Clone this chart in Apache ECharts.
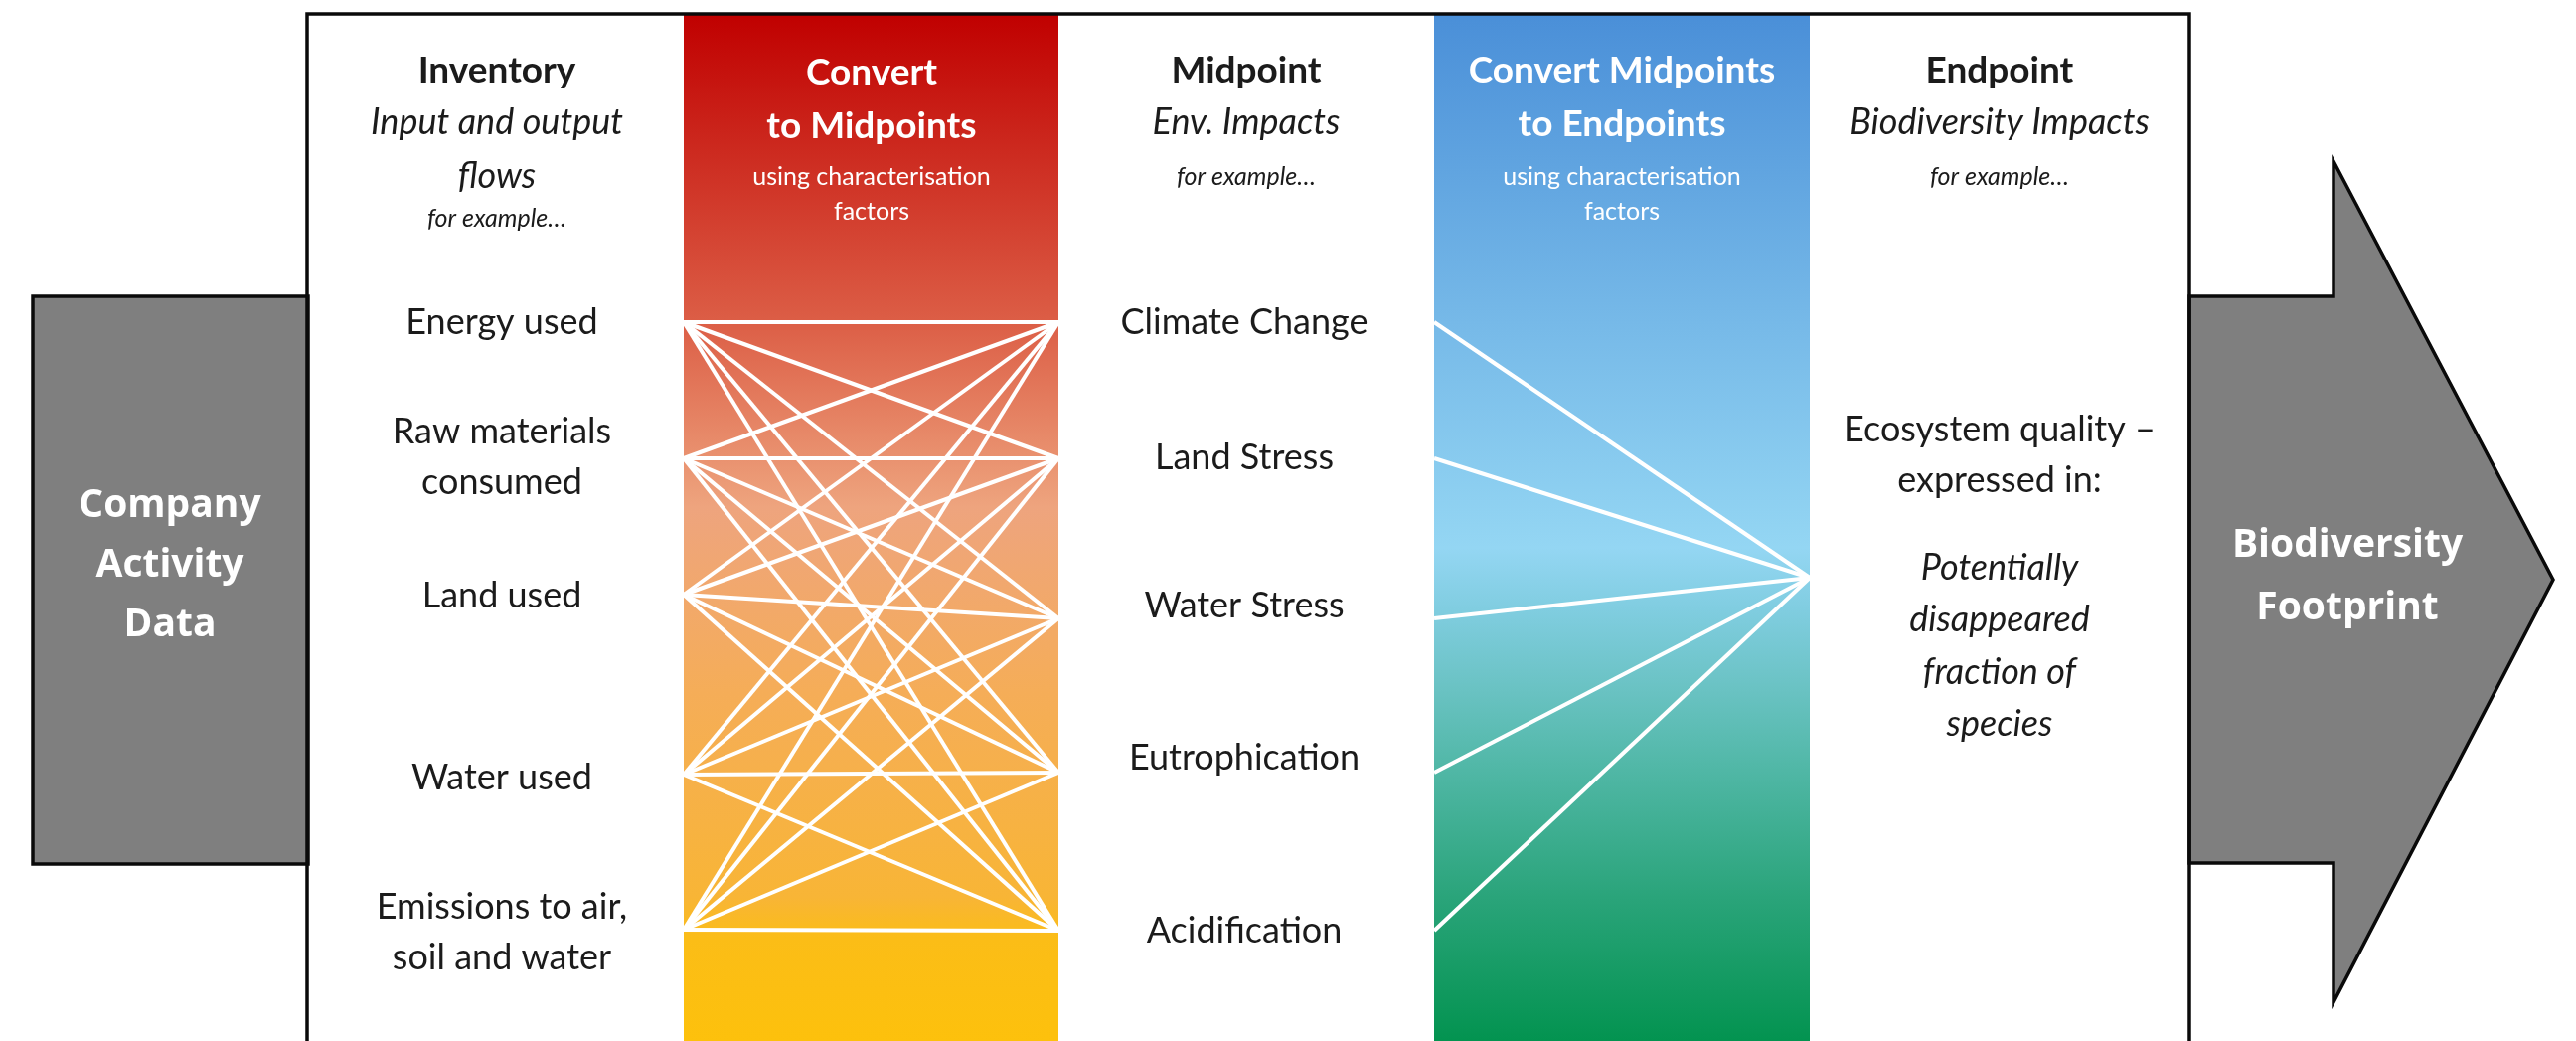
<!DOCTYPE html>
<html>
<head>
<meta charset="utf-8">
<script src="https://cdn.jsdelivr.net/npm/echarts@6/dist/echarts.min.js"></script>
<style>
html,body{margin:0;padding:0;background:#fff;}
#chart{width:2592px;height:1047px;}
</style>
</head>
<body>
<div id="chart"></div>
<script>
// ---------------- data ----------------
const inventoryFlows = ['Energy used', 'Raw materials\nconsumed', 'Land used', 'Water used', 'Emissions to air,\nsoil and water'];
const midpointImpacts = ['Climate Change', 'Land Stress', 'Water Stress', 'Eutrophication', 'Acidification'];
const endpointImpact = 'Ecosystem quality –\nexpressed in:';
const endpointMeasure = 'Potentially\ndisappeared\nfraction of\nspecies';
const columnTitles = ['Inventory', 'Convert\nto Midpoints', 'Midpoint', 'Convert Midpoints\nto Endpoints', 'Endpoint'];
const columnSubtitles = ['Input and output\nflows', '', 'Env. Impacts', '', 'Biodiversity Impacts'];
const columnNotes = ['for example…', 'using characterisation\nfactors', 'for example…', 'using characterisation\nfactors', 'for example…'];
const sourceLabel = 'Company\nActivity\nData';
const resultLabel = 'Biodiversity\nFootprint';

// ---------------- layout (diagram units = reference pixels) ----------------
const W = 2592, H = 1047;
const LAYOUT = {
  colCenterX: [500, 877, 1254, 1632, 2012],
  itemCenterX: [505, 877, 1252, 1632, 2012],
  titleY: [71, 73, 71, 71, 71],
  titleLH: 54,
  subtitleY: 123,
  subtitleLH: 54,
  noteY: [220, 178, 178, 178, 178],
  noteLH: 35,
  inventoryLabelY: [324, 434, 599, 782, 912],
  inventoryNodeY: [324, 461, 598, 779, 935],
  midpointLabelY: [324, 460, 609, 762, 936],
  midpointNodeY: [324, 461, 622, 777, 936],
  itemLH: 51,
  endpointNodeY: 581,
  endpointImpactY: 432,
  endpointMeasureY: 571,
  endpointMeasureLH: 52.5,
  redCol: [688, 1065],
  blueCol: [1443, 1821],
  frameTop: 14,
  frameX: [309, 2203],
  companyBox: [[33, 298], [310, 298], [310, 869], [33, 869]],
  arrow: [[2203, 298], [2348, 298], [2348, 162], [2569, 583], [2348, 1008], [2348, 868], [2203, 868]],
  sourceCenter: [171, 509],
  resultCenter: [2362, 549],
  bigLH: 60
};

const FONT = 'Lato, "Open Sans", sans-serif';
const INK = '#1b1b1b';
const STYLES = {
  title: {fontWeight: 'bold', fontStyle: 'normal', fontSize: 37, fontFamily: FONT},
  subtitle: {fontWeight: 'normal', fontStyle: 'italic', fontSize: 36, fontFamily: FONT},
  note: {fontWeight: 'normal', fontStyle: 'italic', fontSize: 25, fontFamily: FONT},
  whiteNote: {fontWeight: 'normal', fontStyle: 'normal', fontSize: 25, fontFamily: FONT},
  item: {fontWeight: 'normal', fontStyle: 'normal', fontSize: 36, fontFamily: FONT},
  itemItalic: {fontWeight: 'normal', fontStyle: 'italic', fontSize: 36, fontFamily: FONT},
  big: {fontWeight: 'bold', fontStyle: 'normal', fontSize: 39, fontFamily: '"Open Sans", Lato, sans-serif'}
};

// ---------------- text table ----------------
const texts = [];
function addBlock(str, x, firstY, lh, style, color) {
  str.split('\n').forEach((line, i) => texts.push({x: x, y: firstY + i * lh, text: line, style: style, color: color}));
}
columnTitles.forEach((t, i) => {
  const onColour = (i === 1 || i === 3);
  addBlock(t, LAYOUT.colCenterX[i], LAYOUT.titleY[i], LAYOUT.titleLH, 'title', onColour ? '#ffffff' : INK);
  if (columnSubtitles[i]) addBlock(columnSubtitles[i], LAYOUT.colCenterX[i], LAYOUT.subtitleY, LAYOUT.subtitleLH, 'subtitle', INK);
  addBlock(columnNotes[i], LAYOUT.colCenterX[i], LAYOUT.noteY[i], LAYOUT.noteLH, onColour ? 'whiteNote' : 'note', onColour ? '#ffffff' : INK);
});
inventoryFlows.forEach((t, i) => addBlock(t, LAYOUT.itemCenterX[0], LAYOUT.inventoryLabelY[i], LAYOUT.itemLH, 'item', INK));
midpointImpacts.forEach((t, i) => addBlock(t, LAYOUT.itemCenterX[2], LAYOUT.midpointLabelY[i], LAYOUT.itemLH, 'item', INK));
addBlock(endpointImpact, LAYOUT.itemCenterX[4], LAYOUT.endpointImpactY, LAYOUT.itemLH, 'item', INK);
addBlock(endpointMeasure, LAYOUT.itemCenterX[4], LAYOUT.endpointMeasureY, LAYOUT.endpointMeasureLH, 'itemItalic', INK);
addBlock(sourceLabel, LAYOUT.sourceCenter[0], LAYOUT.sourceCenter[1], LAYOUT.bigLH, 'big', '#ffffff');
addBlock(resultLabel, LAYOUT.resultCenter[0], LAYOUT.resultCenter[1], LAYOUT.bigLH + 3, 'big', '#ffffff');

// ---------------- links ----------------
const midpointLinks = [];
inventoryFlows.forEach((f, i) => midpointImpacts.forEach((m, j) => {
  midpointLinks.push({name: f + ' → ' + m, coords: [[LAYOUT.redCol[0], LAYOUT.inventoryNodeY[i]], [LAYOUT.redCol[1], LAYOUT.midpointNodeY[j]]]});
}));
const endpointLinks = midpointImpacts.map((m, j) => ({
  name: m + ' → Ecosystem quality',
  coords: [[LAYOUT.blueCol[0], LAYOUT.midpointNodeY[j]], [LAYOUT.blueCol[1], LAYOUT.endpointNodeY]]
}));

// ---------------- column fills ----------------
const columns = [
  {x: LAYOUT.redCol, stops: [
    [0, '#c00000'], [0.3, '#dc5e46'], [0.48, '#eea47e'], [0.66, '#f5ad58'], [0.86, '#f8b536'], [0.9, '#fbbd17'], [1, '#fdc10c']]},
  {x: LAYOUT.blueCol, stops: [
    [0, '#4a8fd8'], [0.3, '#76b9e8'], [0.52, '#94d6f3'], [0.58, '#80cde0'], [0.66, '#69c2c2'], [0.73, '#52b8a8'], [0.86, '#2aa47a'], [1, '#039350']]}
];

const chart = echarts.init(document.getElementById('chart'), null, {renderer: 'canvas'});
chart.setOption({
  backgroundColor: '#ffffff',
  animation: false,
  grid: {left: 0, right: 0, top: 0, bottom: 0},
  xAxis: {type: 'value', min: 0, max: W, show: false},
  yAxis: {type: 'value', min: 0, max: H, inverse: true, show: false},
  series: [
    {
      type: 'custom', name: 'columns', z: 1, silent: true,
      data: columns.map((c, i) => [i]),
      renderItem: function (params, api) {
        const c = columns[params.dataIndex];
        const p0 = api.coord([c.x[0], LAYOUT.frameTop]);
        const p1 = api.coord([c.x[1], H]);
        return {
          type: 'rect',
          shape: {x: p0[0], y: p0[1], width: p1[0] - p0[0], height: p1[1] - p0[1]},
          style: {fill: {type: 'linear', x: 0, y: 0, x2: 0, y2: 1,
            colorStops: c.stops.map(s => ({offset: s[0], color: s[1]}))}}
        };
      }
    },
    {
      type: 'lines', name: 'Inventory → Midpoint', coordinateSystem: 'cartesian2d', z: 2, silent: true,
      polyline: false,
      data: midpointLinks,
      lineStyle: {color: '#ffffff', width: 4, opacity: 1, curveness: 0}
    },
    {
      type: 'lines', name: 'Midpoint → Endpoint', coordinateSystem: 'cartesian2d', z: 2, silent: true,
      polyline: false,
      data: endpointLinks,
      lineStyle: {color: '#ffffff', width: 4, opacity: 1, curveness: 0}
    },
    {
      type: 'custom', name: 'frame', z: 3, silent: true,
      data: [[0], [1], [2]],
      renderItem: function (params, api) {
        const toPx = pts => pts.map(p => api.coord(p));
        if (params.dataIndex === 0) {
          return {type: 'polygon', shape: {points: toPx(LAYOUT.companyBox)},
            style: {fill: '#7f7f7f', stroke: '#0a0a0a', lineWidth: 3.5, lineJoin: 'miter'}};
        }
        if (params.dataIndex === 1) {
          return {type: 'polygon', shape: {points: toPx(LAYOUT.arrow)},
            style: {fill: '#7f7f7f', stroke: '#0a0a0a', lineWidth: 3.5, lineJoin: 'miter'}};
        }
        const fx = LAYOUT.frameX, ft = LAYOUT.frameTop;
        return {type: 'polyline', shape: {points: toPx([[fx[0], H + 10], [fx[0], ft], [fx[1], ft], [fx[1], H + 10]])},
          style: {fill: null, stroke: '#0a0a0a', lineWidth: 3.5, lineJoin: 'miter'}};
      }
    },
    {
      type: 'custom', name: 'texts', z: 4, silent: true,
      data: texts.map(t => [t.x, t.y]),
      renderItem: function (params, api) {
        const t = texts[params.dataIndex];
        const p = api.coord([t.x, t.y]);
        const s = STYLES[t.style];
        return {
          type: 'text', x: p[0], y: p[1],
          style: {
            text: t.text, fill: t.color,
            fontSize: s.fontSize, fontFamily: s.fontFamily, fontWeight: s.fontWeight, fontStyle: s.fontStyle,
            align: 'center', verticalAlign: 'middle'
          }
        };
      }
    }
  ]
});
</script>
</body>
</html>
